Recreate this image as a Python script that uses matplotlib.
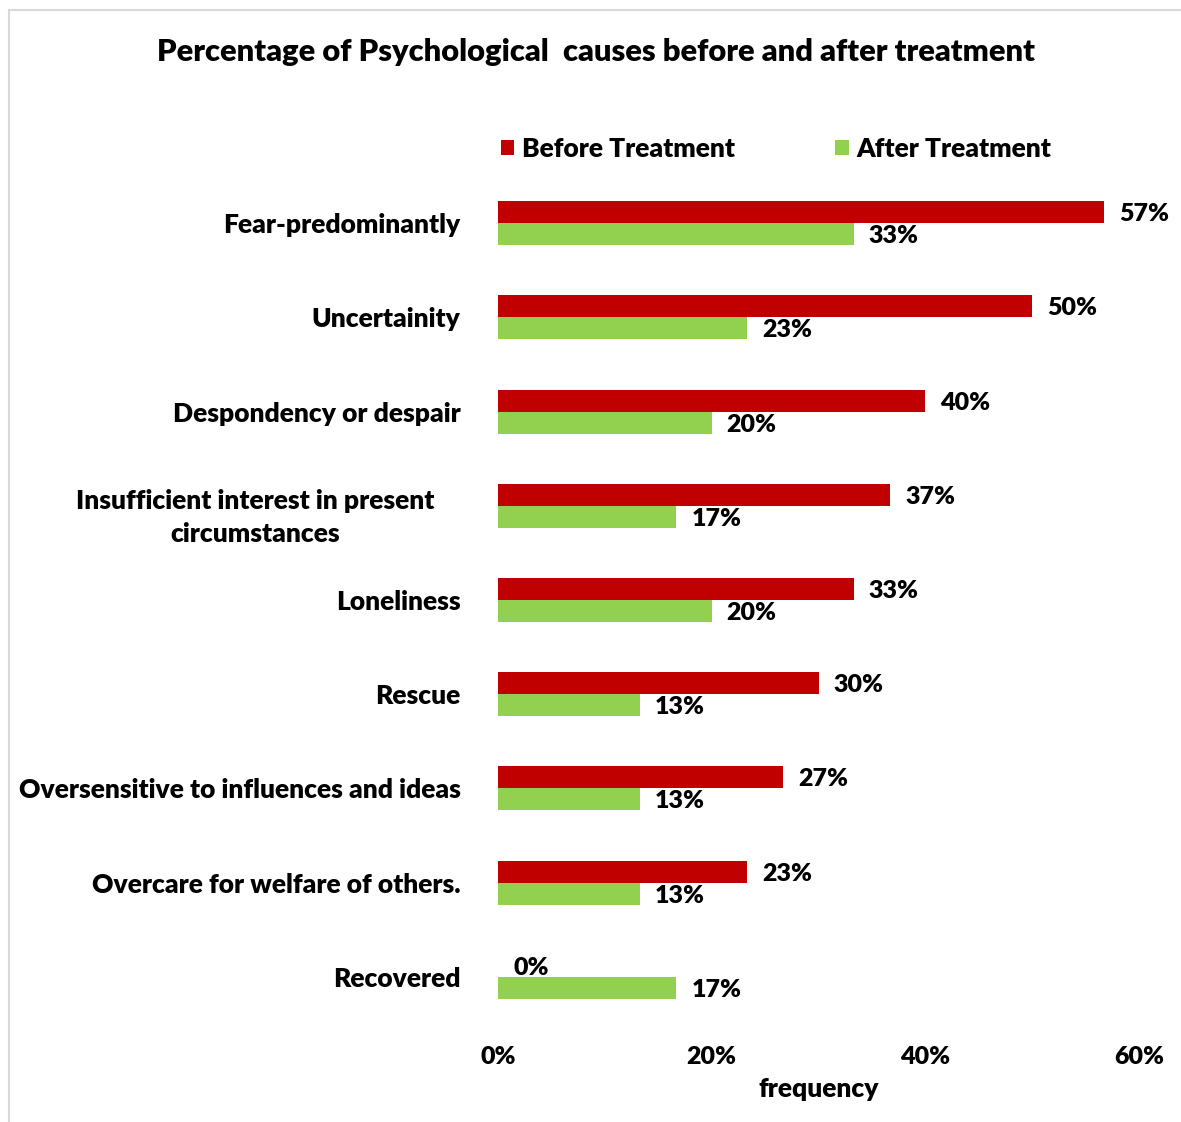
import numpy as np
import matplotlib.pyplot as plt
from matplotlib.patches import Rectangle
from matplotlib.ticker import PercentFormatter

plt.rcParams['font.family'] = ['Lato', 'DejaVu Sans']
plt.rcParams['font.weight'] = 'heavy'

categories = ['Fear-predominantly', 'Uncertainity', 'Despondency or despair',
              'Insufficient interest in present\ncircumstances', 'Loneliness',
              'Rescue', 'Oversensitive to influences and ideas',
              'Overcare for welfare of others.', 'Recovered']
# percentages (shown rounded on the labels)
before = [56.7, 50.0, 40.0, 36.7, 33.3, 30.0, 26.7, 23.3, 0.0]
after = [33.3, 23.3, 20.0, 16.7, 20.0, 13.3, 13.3, 13.3, 16.7]

red = '#C00000'
green = '#92D050'
fw = 'heavy'

fig = plt.figure(figsize=(11.81, 11.22), dpi=100)
ax = fig.add_axes([498/1181, 1 - 1024/1122, (1139 - 498)/1181, (1024 - 176)/1122])

y = np.arange(len(categories))
h = 0.234
b1 = ax.barh(y - h/2, before, height=h, color=red, label='Before Treatment')
b2 = ax.barh(y + h/2, after, height=h, color=green, label='After Treatment')

for bars, vals in ((b1, before), (b2, after)):
    for rect, v in zip(bars, vals):
        ax.annotate(f'{v:.0f}%', (rect.get_width(), rect.get_y() + rect.get_height()/2),
                    xytext=(15, -2), textcoords='offset pixels', va='center', ha='left',
                    fontsize=18, fontweight=fw)

ax.set_xlim(0, 60)
ax.set_ylim(len(categories) - 0.5, -0.5)
ax.set_xticks([0, 20, 40, 60])
ax.xaxis.set_major_formatter(PercentFormatter(decimals=0))
ax.set_yticks(y)
# the two-line label is placed on its own below
ylabels = ['' if '\n' in c else c for c in categories]
ax.set_yticklabels(ylabels, fontsize=19, fontweight=fw)
for i, c in enumerate(categories):
    if '\n' in c:
        ax.annotate(c, xy=(0, i), xycoords=('axes fraction', 'data'),
                    xytext=(-243, -12), textcoords='offset pixels',
                    ha='center', va='center', multialignment='center',
                    linespacing=1.45, fontsize=19, fontweight=fw)
ax.tick_params(axis='both', length=0)
ax.tick_params(axis='y', pad=27)
ax.tick_params(axis='x', pad=16, labelsize=18)
for lbl in ax.get_xticklabels():
    lbl.set_fontweight(fw)
for s in ax.spines.values():
    s.set_visible(False)
ax.set_xlabel('frequency', fontsize=19, fontweight=fw, labelpad=6)

fig.text(596/1181, 1 - 52/1122, 'Percentage of Psychological  causes before and after treatment',
         ha='center', va='center', fontsize=22.2, fontweight=fw)

fig.legend(handles=[b1, b2], loc='center left', bbox_to_anchor=(501/1181, 1 - 149/1122),
           ncol=2, frameon=False, prop={'size': 19, 'weight': fw},
           handlelength=0.5, handleheight=0.5, handletextpad=0.3, columnspacing=3.8,
           borderpad=0, borderaxespad=0)

fig.patches.append(Rectangle((9/1181, -0.1), 1.2, 1 - 10/1122 + 0.1, transform=fig.transFigure,
                             fill=False, edgecolor='#D9D9D9', linewidth=1.5))

fig.savefig('out.png', dpi=100)
